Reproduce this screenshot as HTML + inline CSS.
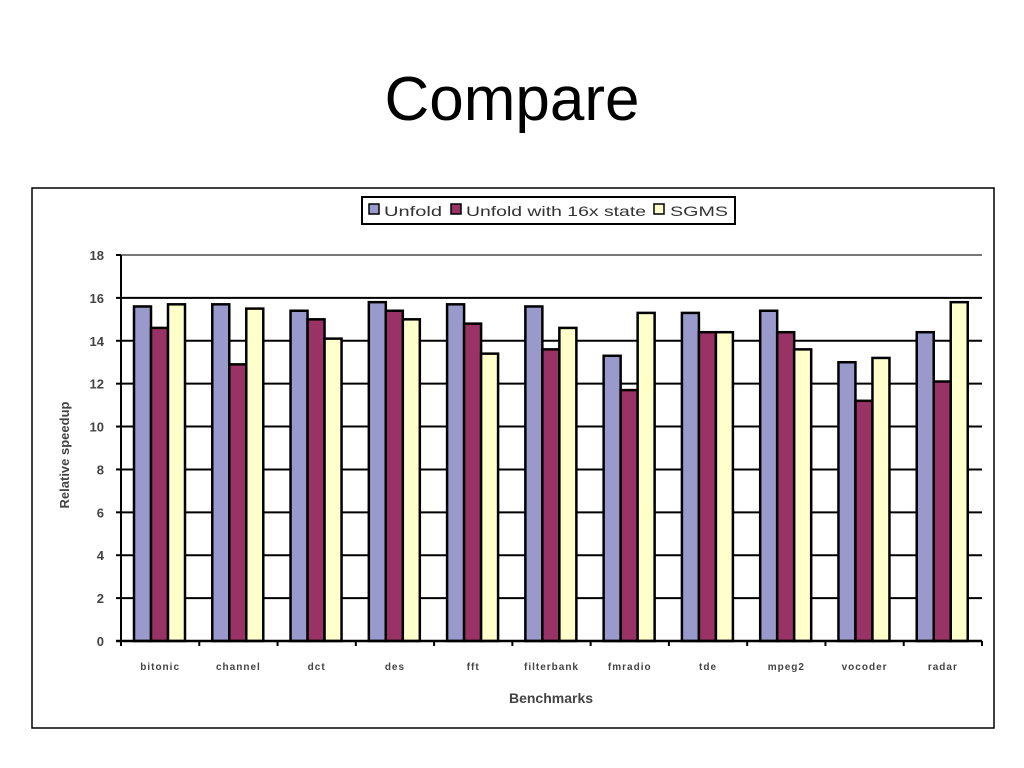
<!DOCTYPE html>
<html><head><meta charset="utf-8"><style>
body{margin:0;background:#fff;width:1024px;height:768px;overflow:hidden;font-family:"Liberation Sans",sans-serif}
</style></head><body>
<div style="position:absolute;left:0;top:64px;width:1024px;text-align:center;font-size:62px;color:#000">Compare</div>
<svg id="chart" width="1024" height="768" style="position:absolute;left:0;top:0" xmlns="http://www.w3.org/2000/svg">
<rect x="32" y="188" width="962" height="540" fill="none" stroke="#000" stroke-width="1.5"/>
<g>
<rect x="362" y="197" width="373" height="27" fill="#fff" stroke="#000" stroke-width="2"/>
<rect x="369" y="204" width="10" height="10" fill="#9999cc" stroke="#000" stroke-width="1.5"/>
<text x="384" y="216" font-size="14" fill="#333" textLength="58" lengthAdjust="spacingAndGlyphs">Unfold</text>
<rect x="451" y="204" width="10" height="10" fill="#993366" stroke="#000" stroke-width="1.5"/>
<text x="466" y="216" font-size="14" fill="#333" textLength="180" lengthAdjust="spacingAndGlyphs">Unfold with 16x state</text>
<rect x="654" y="204" width="10" height="10" fill="#ffffcc" stroke="#000" stroke-width="1.5"/>
<text x="670" y="216" font-size="14" fill="#333" textLength="58" lengthAdjust="spacingAndGlyphs">SGMS</text>
</g>
<text transform="translate(69,455) rotate(-90)" text-anchor="middle" font-size="13" font-weight="bold" fill="#444">Relative speedup</text>
<text x="551" y="703" text-anchor="middle" font-size="14" font-weight="bold" fill="#444">Benchmarks</text>
<g id="plot"></g>
</svg>
<script>
const categories=["bitonic","channel","dct","des","fft","filterbank","fmradio","tde","mpeg2","vocoder","radar"];
const unfold=[15.6,15.7,15.4,15.8,15.7,15.6,13.3,15.3,15.4,13.0,14.4];
const unfold16=[14.6,12.9,15.0,15.4,14.8,13.6,11.7,14.4,14.4,11.2,12.1];
const sgms=[15.7,15.5,14.1,15.0,13.4,14.6,15.3,14.4,13.6,13.2,15.8];
const yTicks=[0,2,4,6,8,10,12,14,16,18];
const NS="http://www.w3.org/2000/svg";
const x0=121,x1=982,y0=641,y1=255,ymax=18;
const yS=v=>y0-(v/ymax)*(y0-y1);
const cw=(x1-x0)/categories.length;
const xS=i=>x0+i*cw;
const g=document.getElementById('plot');
function mk(t,a){const e=document.createElementNS(NS,t);for(const k in a)e.setAttribute(k,a[k]);g.appendChild(e);return e;}
yTicks.forEach(v=>{
  const y=yS(v);
  if(v>0){const l=mk('line',{x1:x0,x2:x1,y1:y,y2:y,stroke:v==18?'#777':'#000','stroke-width':2});
  
  }
  const tk=mk('line',{x1:x0-5,x2:x0,y1:y,y2:y,stroke:'#000','stroke-width':2});
  
  
  const t=mk('text',{x:x0-17,y:y+5,'text-anchor':'end','font-size':13,'font-weight':'bold',fill:'#444'});
  t.textContent=v;
  
  
});
const series=[[unfold,'#9999cc','unfold'],[unfold16,'#993366','unfold16'],[sgms,'#ffffcc','sgms']];
categories.forEach((c,i)=>{
  series.forEach((s,j)=>{
    const v=s[0][i];const bx=xS(i)+13+j*17;
    const r=mk('rect',{x:bx,y:yS(v),width:17,height:y0-yS(v),fill:s[1],stroke:'#000','stroke-width':2.5});
    
    
  });
  const t=mk('text',{x:xS(i)+cw/2,y:670,'text-anchor':'middle','font-size':10,'font-weight':'bold',fill:'#444','letter-spacing':'1'});
  t.textContent=c;
  
  
  const tk=mk('line',{x1:xS(i+1),x2:xS(i+1),y1:y0,y2:y0+5,stroke:'#000','stroke-width':2});
  
  
});
const ax=mk('line',{x1:x0,x2:x0,y1:y1,y2:y0+5,stroke:'#000','stroke-width':2});


const bx=mk('line',{x1:x0-5,x2:x1,y1:y0,y2:y0,stroke:'#000','stroke-width':2.5});


</script>
</body></html>
